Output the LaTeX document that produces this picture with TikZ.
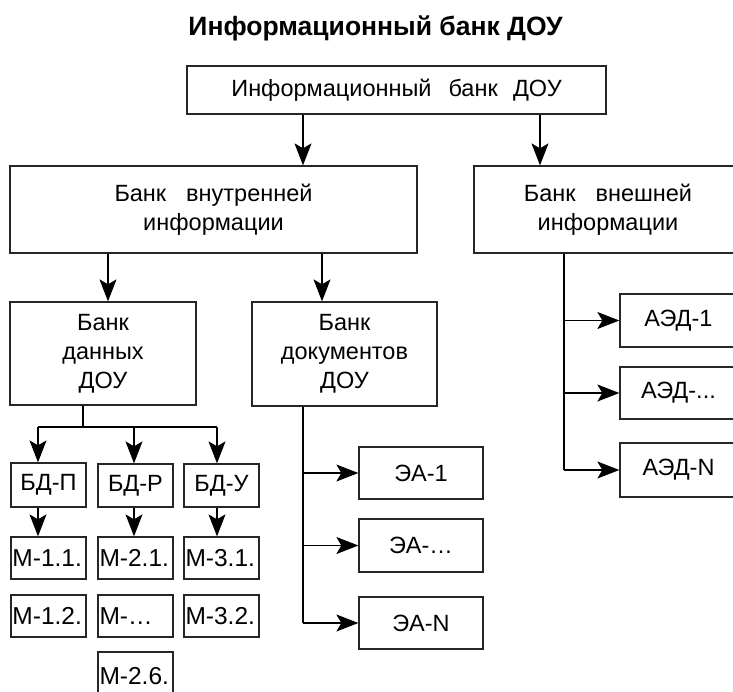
\documentclass[tikz,border=0pt]{standalone}
\usepackage{fontspec}
\setmainfont{Liberation Sans}
\usetikzlibrary{arrows.meta}
\begin{document}
\begin{tikzpicture}[x=1pt,y=-1pt,
  box/.style={draw=black!85,line width=1.3pt,inner sep=0pt,align=center,font=\fontsize{23.5}{29}\selectfont},
  mbox/.style={draw=black!85,line width=1.3pt,inner sep=1.5pt,text width=72pt,align=left,minimum height=42pt,font=\fontsize{24.5}{28}\selectfont},
  arr/.style={line width=1.1pt,-{Stealth[length=22pt,width=17pt,inset=5pt]}},
  ln/.style={line width=1.1pt}]
\useasboundingbox (0,0) rectangle (733,691);
\clip (0,0) rectangle (733,691);

\node[font=\bfseries\fontsize{26.5}{30}\selectfont, anchor=base] (title) at (375.5,35) {Информационный банк ДОУ};

\node[box,minimum width=419pt,minimum height=48pt] (top) at (396.5,90) {Информационный\hspace{0.72em}банк\hspace{0.65em}ДОУ};
\node[box,minimum width=407pt,minimum height=87pt] (vn) at (213.5,209.5) {Банк\hspace{0.85em}внутренней\\информации};
\node[box,minimum width=268pt,minimum height=87pt] (ext) at (608,209.5) {Банк\hspace{0.85em}внешней\\информации};
\node[box,minimum width=186pt,minimum height=103pt] (bd) at (103,353.5) {Банк\\данных\\ДОУ};
\node[box,minimum width=185pt,minimum height=104pt] (doc) at (344.5,354) {Банк\\документов\\ДОУ};

\node[box,minimum width=75pt,minimum height=44pt] (bdp) at (48.5,485) {БД-П};
\node[box,minimum width=75pt,minimum height=43pt] (bdr) at (135.5,485.5) {БД-Р};
\node[box,minimum width=75pt,minimum height=43pt] (bdu) at (221.5,485.5) {БД-У};

\node[mbox] (m11) at (48.5,558) {М-1.1.};
\node[mbox] (m21) at (135.5,558) {М-2.1.};
\node[mbox] (m31) at (221.5,558) {М-3.1.};
\node[mbox] (m12) at (48.5,616) {М-1.2.};
\node[mbox] (m2x) at (135.5,616) {М-\dots};
\node[mbox] (m32) at (221.5,616) {М-3.2.};
\node[mbox,minimum height=48pt] (m26) at (135.5,676) {М-2.6.};

\node[box,minimum width=124pt,minimum height=52pt] (ea1) at (421,473) {ЭА-1};
\node[box,minimum width=124pt,minimum height=53pt] (ea2) at (421,545.5) {ЭА-\dots};
\node[box,minimum width=124pt,minimum height=52pt] (eaN) at (421,623) {ЭА-N};

\node[box,minimum width=117pt,minimum height=53pt] (aed1) at (678.5,320.5) {АЭД-1};
\node[box,minimum width=117pt,minimum height=52pt] (aed2) at (678.5,393) {АЭД-...};
\node[box,minimum width=117pt,minimum height=54pt] (aedN) at (678.5,470) {АЭД-N};

\coordinate (xa) at (303,0);
\coordinate (xb) at (540,0);
\coordinate (xc) at (108,0);
\coordinate (xd) at (322,0);
\coordinate (xe) at (83,0);
\coordinate (xf) at (38,0);
\coordinate (xg) at (134,0);
\coordinate (xh) at (217,0);
\coordinate (xj) at (564,0);
\coordinate (ya) at (0,427);

\draw[arr] (top.south -| xa) -- (vn.north -| xa);
\draw[arr] (top.south -| xb) -- (ext.north -| xb);
\draw[arr] (vn.south -| xc) -- (bd.north -| xc);
\draw[arr] (vn.south -| xd) -- (doc.north -| xd);

\draw[ln] (bd.south -| xe) -- (xe |- ya);
\draw[ln] (xf |- ya) -- (xh |- ya);
\draw[arr] (xf |- ya) -- (bdp.north -| xf);
\draw[arr] (xg |- ya) -- (bdr.north -| xg);
\draw[arr] (xh |- ya) -- (bdu.north -| xh);
\draw[arr] (bdp.south -| xf) -- (m11.north -| xf);
\draw[arr] (bdr.south -| xg) -- (m21.north -| xg);
\draw[arr] (bdu.south -| xh) -- (m31.north -| xh);

\draw[ln] (doc.south -| xa) -- (xa |- eaN.west);
\draw[arr] (xa |- ea1.west) -- (ea1.west);
\draw[arr] (xa |- ea2.west) -- (ea2.west);
\draw[arr] (xa |- eaN.west) -- (eaN.west);

\draw[ln] (ext.south -| xj) -- (xj |- aedN.west);
\draw[arr] (xj |- aed1.west) -- (aed1.west);
\draw[arr] (xj |- aed2.west) -- (aed2.west);
\draw[arr] (xj |- aedN.west) -- (aedN.west);
\end{tikzpicture}
\end{document}
